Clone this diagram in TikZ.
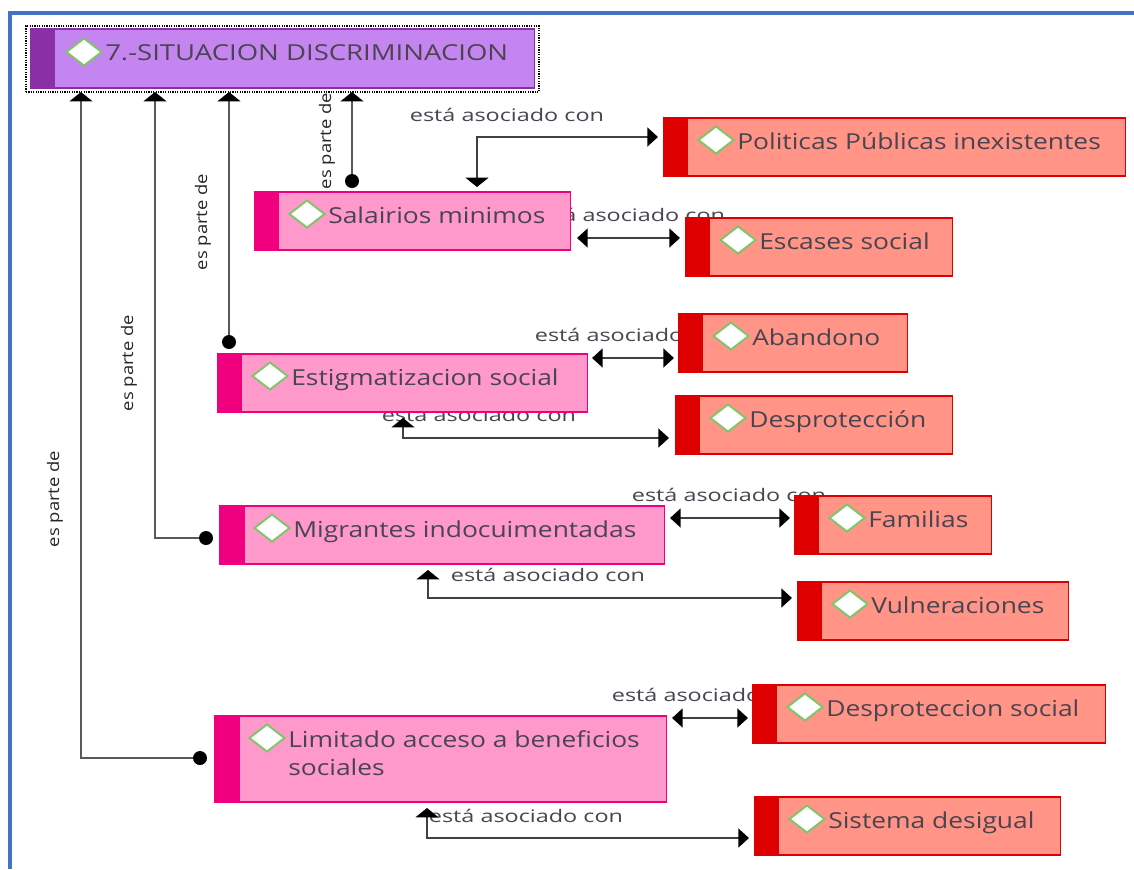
\documentclass[tikz,border=0pt]{standalone}
\usepackage{fontspec}
\usetikzlibrary{arrows.meta,shapes.geometric}
\setmainfont{Open Sans}
\newfontfamily\boxfont[FakeStretch=1.2]{Open Sans}
\newfontfamily\mainboxfont[FakeStretch=1.25]{Open Sans}
\newfontfamily\labfont[FakeStretch=1.35]{Open Sans}
\newfontfamily\partfont[FakeStretch=1.15]{Open Sans}
\definecolor{mainfill}{HTML}{C585F0}
\definecolor{mainband}{HTML}{8A2FA5}
\definecolor{pinkfill}{HTML}{FF99CC}
\definecolor{pinkband}{HTML}{F0007F}
\definecolor{redfill}{HTML}{FF9487}
\definecolor{redband}{HTML}{DE0000}
\definecolor{framecol}{HTML}{4472C4}
\definecolor{txt}{HTML}{4A4450}
\definecolor{dia}{HTML}{82C46C}
\tikzset{
  x=0.75pt,y=-0.75pt,
  mainbox/.style={draw=mainband,fill=mainfill,line width=0.8pt},
  pinkbox/.style={draw=pinkband,fill=pinkfill,line width=0.9pt},
  redbox/.style={draw=redband,fill=redfill,line width=0.9pt},
  mainbar/.style={fill=mainband},
  pinkbar/.style={fill=pinkband},
  redbar/.style={fill=redband},
  boxtext/.style={anchor=north west,inner sep=0pt,align=left,text=txt,
    font=\boxfont\fontsize{16.5pt}{21pt}\selectfont},
  mainboxtext/.style={boxtext,font=\mainboxfont\fontsize{16.5pt}{21pt}\selectfont},
  marker/.style={diamond,draw=dia,fill=white,line width=1.5pt,inner sep=0pt,
    minimum width=27pt,minimum height=21pt},
  assoclabel/.style={inner sep=0pt,text=txt,font=\labfont\fontsize{13pt}{15pt}\selectfont},
  partlabel/.style={inner sep=0pt,rotate=90,text=black!85,font=\partfont\fontsize{12pt}{14pt}\selectfont},
  bigtip/.tip={Triangle[length=7pt,width=17pt,black]},
  midtip/.tip={Triangle[length=8pt,width=14pt,black]},
  partline/.style={draw=black!65,line width=2.1pt},
  assocline/.style={draw=black!75,line width=2pt},
  enddot/.style={circle,fill=black,inner sep=0pt,minimum size=10.5pt},
}
% name, x0, y0, x1, y1, band right, kind, text
\newcommand{\conceptbox}[8]{%
  \node[#7box,inner sep=0pt,minimum width={(#4-#2)*0.75pt},minimum height={(#5-#3)*0.75pt}]
    (#1) at ({(#2+#4)/2+0.5},{(#3+#5)/2}) {};
  \path[#7bar] ({#2+0.5},#3) rectangle ({#6+0.5},#5);
  \draw[#7box,fill=none] ({#2+0.5},#3) rectangle ({#4+0.5},#5);
  \node[marker] (#1d) at ({#2+53},{#3+22}) {};
  \node[boxtext] (#1t) at ({#2+74},{#3+13}) {\rule{0pt}{13.5pt}#8};
}
\begin{document}
\begin{tikzpicture}
\useasboundingbox (0,0) rectangle (1134,869);
\fill[white] (0,0) rectangle (1134,869);
\coordinate (fa) at (10,869);
\coordinate (fb) at (10,13);
\coordinate (fc) at (1134,13);
\draw[framecol,line width=2.6pt] (fa) -- (fb) -- (fc);

% labels first: the boxes cover them
\node[assoclabel] (l1) at (507,115) {está asociado con};
\node[assoclabel] (l2) at (628,215) {está asociado con};
\node[assoclabel] (l3) at (632,335) {está asociado con};
\node[assoclabel] (l4) at (479,415) {está asociado con};
\node[assoclabel] (l5) at (729,495) {está asociado con};
\node[assoclabel] (l6) at (548,575) {está asociado con};
\node[assoclabel] (l7) at (709,695) {está asociado con};
\node[assoclabel] (l8) at (526,816) {está asociado con};
\node[partlabel] (p1) at (55,499) {es parte de};
\node[partlabel] (p2) at (129,363) {es parte de};
\node[partlabel] (p3) at (203,222) {es parte de};
\node[partlabel] (p4) at (327,141) {es parte de};

\node[draw=black,dash pattern=on 0.9pt off 0.9pt,line width=0.9pt,inner sep=0pt,minimum width=384.75pt,minimum height=49.5pt] (frame) at (282.5,59) {};
\node[mainbox,inner sep=0pt,minimum width=378pt,minimum height=44.25pt] (main) at (282.5,58.5) {};
\path[mainbar] (30.5,29) rectangle (55,88);
\draw[mainbox,fill=none] (30.5,29) rectangle (534.5,88);
\node[marker] (maind) at (84,52) {};
\node[mainboxtext] (maint) at (105,42) {\rule{0pt}{13.5pt}7.-SITUACION DISCRIMINACION};
\conceptbox{sal}{254}{192}{570}{250}{278}{pink}{Salairios minimos}
\conceptbox{est}{217}{354}{587}{412}{241}{pink}{Estigmatizacion social}
\conceptbox{mig}{219}{506}{664}{564}{244}{pink}{Migrantes indocuimentadas}
\conceptbox{lim}{214}{716}{666}{802}{239}{pink}{Limitado acceso a beneficios\\sociales}
\conceptbox{pol}{663}{118}{1125}{176}{687}{red}{Politicas Públicas inexistentes}
\conceptbox{esc}{685}{218}{952}{276}{709}{red}{Escases social}
\conceptbox{aba}{678}{314}{907}{372}{702}{red}{Abandono}
\conceptbox{des}{675}{396}{952}{454}{699}{red}{Desprotección}
\conceptbox{fam}{794}{496}{991}{554}{818}{red}{Familias}
\conceptbox{vul}{797}{582}{1068}{640}{821}{red}{Vulneraciones}
\conceptbox{dso}{752}{685}{1105}{743}{776}{red}{Desproteccion social}
\conceptbox{sis}{754}{797}{1060}{855}{778}{red}{Sistema desigual}

% es parte de
\node[enddot] (d1) at (200,758) {};
\node[enddot] (d2) at (206,538) {};
\node[enddot] (d3) at (229,342) {};
\node[enddot] (d4) at (352,181) {};
\coordinate (e1) at (81,92);
\coordinate (e2) at (155,92);
\coordinate (e3) at (229,92);
\coordinate (e4) at (352,92);
\draw[partline,-{bigtip}] (d1) -| (e1);
\draw[partline,-{bigtip}] (d2) -| (e2);
\draw[partline,-{bigtip}] (d3) -- (e3);
\draw[partline,-{bigtip}] (d4) -- (e4);

% está asociado con
\coordinate (a1) at (477,187);
\coordinate (b1) at (658,137);
\draw[assocline,{bigtip}-{midtip}] (a1) |- (b1);
\coordinate (a2) at (577,238);
\coordinate (b2) at (680,238);
\draw[assocline,{midtip}-{midtip}] (a2) -- (b2);
\coordinate (a3) at (592,358);
\coordinate (b3) at (674,358);
\draw[assocline,{midtip}-{midtip}] (a3) -- (b3);
\coordinate (a4) at (403,418);
\coordinate (b4) at (669,438);
\draw[assocline,{bigtip}-{midtip}] (a4) |- (b4);
\coordinate (a5) at (670,518);
\coordinate (b5) at (790,518);
\draw[assocline,{midtip}-{midtip}] (a5) -- (b5);
\coordinate (a6) at (428,570);
\coordinate (b6) at (792,598);
\draw[assocline,{bigtip}-{midtip}] (a6) |- (b6);
\coordinate (a7) at (672,718);
\coordinate (b7) at (748,718);
\draw[assocline,{midtip}-{midtip}] (a7) -- (b7);
\coordinate (a8) at (427,808);
\coordinate (b8) at (749,838);
\draw[assocline,{bigtip}-{midtip}] (a8) |- (b8);
\end{tikzpicture}
\end{document}
